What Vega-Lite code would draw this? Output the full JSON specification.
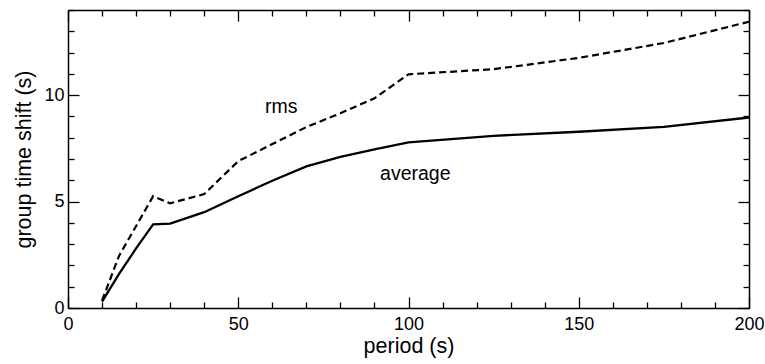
{
  "$schema": "https://vega.github.io/schema/vega-lite/v6.json",
  "width": 681,
  "height": 298,
  "autosize": {"type": "none"},
  "padding": {"left": 68, "top": 10, "right": 16, "bottom": 56},
  "background": "white",
  "config": {
    "view": {"stroke": null},
    "font": "Liberation Sans",
    "axis": {
      "domainColor": "black",
      "domainWidth": 1.5,
      "tickColor": "black",
      "tickWidth": 1.3,
      "grid": false,
      "labelColor": "black",
      "titleColor": "black",
      "labelFont": "Liberation Sans",
      "titleFont": "Liberation Sans",
      "labelFontSize": 18,
      "titleFontSize": 21.5,
      "titleFontWeight": "normal"
    }
  },
  "datasets": {
    "rms": [
      {"period": 10, "shift": 0.35},
      {"period": 15, "shift": 2.45},
      {"period": 25, "shift": 5.25},
      {"period": 30, "shift": 4.92},
      {"period": 40, "shift": 5.35},
      {"period": 50, "shift": 6.9},
      {"period": 60, "shift": 7.7},
      {"period": 70, "shift": 8.5},
      {"period": 80, "shift": 9.15},
      {"period": 90, "shift": 9.85},
      {"period": 100, "shift": 10.98},
      {"period": 125, "shift": 11.22},
      {"period": 150, "shift": 11.75},
      {"period": 175, "shift": 12.45},
      {"period": 200, "shift": 13.45}
    ],
    "average": [
      {"period": 10, "shift": 0.3},
      {"period": 15, "shift": 1.6},
      {"period": 20, "shift": 2.8},
      {"period": 25, "shift": 3.93},
      {"period": 30, "shift": 3.96},
      {"period": 40, "shift": 4.5},
      {"period": 50, "shift": 5.25},
      {"period": 60, "shift": 5.98},
      {"period": 70, "shift": 6.65},
      {"period": 80, "shift": 7.1},
      {"period": 90, "shift": 7.45},
      {"period": 100, "shift": 7.78},
      {"period": 125, "shift": 8.09},
      {"period": 150, "shift": 8.28},
      {"period": 175, "shift": 8.51},
      {"period": 200, "shift": 8.95}
    ],
    "labels": [
      {"period": 62.6, "shift": 9.15, "text": "rms"},
      {"period": 102, "shift": 6.0, "text": "average"}
    ]
  },
  "resolve": {"axis": {"x": "independent", "y": "independent"}},
  "layer": [
    {
      "data": {"name": "rms"},
      "mark": {"type": "line", "color": "black", "strokeWidth": 2.2, "strokeDash": [7, 4]},
      "encoding": {
        "x": {
          "field": "period", "type": "quantitative",
          "scale": {"domain": [0, 200], "nice": false},
          "axis": {
            "orient": "bottom",
            "title": "period (s)",
            "values": [0,10,20,30,40,50,60,70,80,90,100,110,120,130,140,150,160,170,180,190,200],
            "labelExpr": "datum.value % 50 === 0 ? datum.label : ''",
            "tickSize": {"condition": {"test": "datum.value % 50 === 0", "value": -11}, "value": -6},
            "labelPadding": 18,
            "titlePadding": 2,
            "labelFlush": false
          }
        },
        "y": {
          "field": "shift", "type": "quantitative",
          "scale": {"domain": [0, 14], "nice": false},
          "axis": {
            "orient": "left",
            "title": "group time shift (s)",
            "values": [0,1,2,3,4,5,6,7,8,9,10,11,12,13,14],
            "labelExpr": "datum.value % 5 === 0 ? datum.label : ''",
            "tickSize": {"condition": {"test": "datum.value % 5 === 0", "value": -11}, "value": -6},
            "labelPadding": 15,
            "titlePadding": 8,
            "labelFlush": false
          }
        }
      }
    },
    {
      "data": {"name": "average"},
      "mark": {"type": "line", "color": "black", "strokeWidth": 2.3},
      "encoding": {
        "x": {
          "field": "period", "type": "quantitative",
          "scale": {"domain": [0, 200], "nice": false},
          "axis": {
            "orient": "top",
            "title": null,
            "labels": false,
            "values": [0,10,20,30,40,50,60,70,80,90,100,110,120,130,140,150,160,170,180,190,200],
            "tickSize": {"condition": {"test": "datum.value % 50 === 0", "value": -11}, "value": -6}
          }
        },
        "y": {
          "field": "shift", "type": "quantitative",
          "scale": {"domain": [0, 14], "nice": false},
          "axis": {
            "orient": "right",
            "title": null,
            "labels": false,
            "values": [0,1,2,3,4,5,6,7,8,9,10,11,12,13,14],
            "tickSize": {"condition": {"test": "datum.value % 5 === 0", "value": -11}, "value": -6}
          }
        }
      }
    },
    {
      "data": {"name": "labels"},
      "mark": {"type": "text", "font": "Liberation Sans", "fontSize": 19.5, "color": "black", "align": "center", "baseline": "alphabetic"},
      "encoding": {
        "x": {"field": "period", "type": "quantitative", "axis": null},
        "y": {"field": "shift", "type": "quantitative", "axis": null},
        "text": {"field": "text"}
      }
    }
  ]
}
